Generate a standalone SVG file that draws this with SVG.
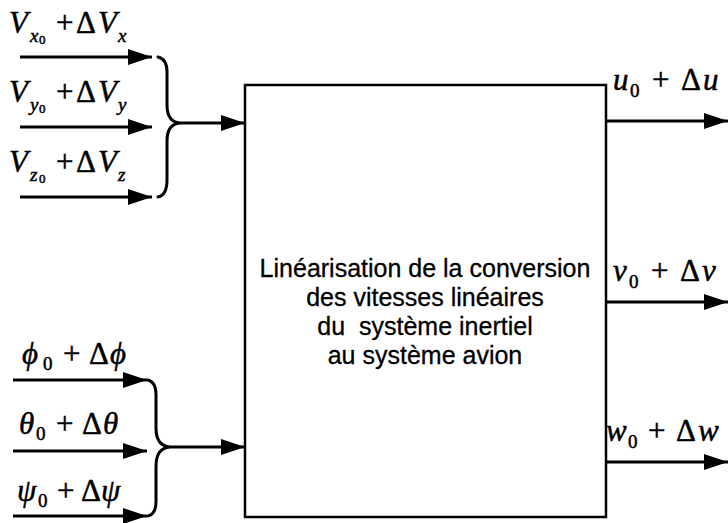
<svg xmlns="http://www.w3.org/2000/svg" width="728" height="523" viewBox="0 0 728 523">
  <defs>
    <marker id="arrow" markerWidth="24" markerHeight="16" refX="24" refY="8" orient="auto" markerUnits="userSpaceOnUse">
      <path d="M0,0 L24,8 L0,16 Z" fill="#000"/>
    </marker>
    <style>
      .wire { stroke: #000; stroke-width: 3; fill: none; }
      .brace { stroke: #000; stroke-width: 3; fill: none; stroke-linecap: round; }
      .box { stroke: #000; stroke-width: 2.5; fill: #fff; }
      .math { font-family: "Liberation Serif", "Times New Roman", serif; font-size: 31px; fill: #000; stroke: #000; stroke-width: 0.5; }
      .it { font-style: italic; }
      .sub { font-size: 19px; }
      .sub2 { font-size: 13px; }
      .body { font-family: "Liberation Sans", Arial, sans-serif; font-size: 25px; fill: #000; stroke: #000; stroke-width: 0.3; text-anchor: middle; }
    </style>
  </defs>

  <!-- central block -->
  <g id="block">
    <rect class="box" x="245" y="85" width="361" height="432"/>
    <text class="body" x="425" y="277">Linéarisation de la conversion</text>
    <text class="body" x="425" y="306">des vitesses linéaires</text>
    <text class="body" x="425" y="335" xml:space="preserve">du  système inertiel</text>
    <text class="body" x="425" y="364">au système avion</text>
  </g>

  <!-- input labels -->
  <g id="in-vx">
    <text class="math"><tspan class="it" x="9" y="33">V</tspan><tspan class="it sub" x="30" y="42">x</tspan><tspan class="sub2" x="39" y="44">0</tspan><tspan x="56" y="33">+</tspan><tspan x="76" y="33">Δ</tspan><tspan class="it" x="98" y="33">V</tspan><tspan class="it sub" x="118" y="42">x</tspan></text>
  </g>
  <g id="in-vy">
    <text class="math"><tspan class="it" x="9" y="102">V</tspan><tspan class="it sub" x="30" y="111">y</tspan><tspan class="sub2" x="39" y="113">0</tspan><tspan x="56" y="102">+</tspan><tspan x="76" y="102">Δ</tspan><tspan class="it" x="98" y="102">V</tspan><tspan class="it sub" x="118" y="111">y</tspan></text>
  </g>
  <g id="in-vz">
    <text class="math"><tspan class="it" x="9" y="172">V</tspan><tspan class="it sub" x="30" y="181">z</tspan><tspan class="sub2" x="39" y="183">0</tspan><tspan x="56" y="172">+</tspan><tspan x="76" y="172">Δ</tspan><tspan class="it" x="98" y="172">V</tspan><tspan class="it sub" x="118" y="181">z</tspan></text>
  </g>
  <g id="in-phi">
    <text class="math"><tspan class="it" x="22" y="364">ϕ</tspan><tspan class="sub" x="43" y="370">0</tspan><tspan x="63" y="364">+</tspan><tspan x="89" y="364">Δ</tspan><tspan class="it" x="110" y="364">ϕ</tspan></text>
  </g>
  <g id="in-theta">
    <text class="math"><tspan class="it" x="19" y="434">θ</tspan><tspan class="sub" x="36" y="440">0</tspan><tspan x="56" y="434">+</tspan><tspan x="82" y="434">Δ</tspan><tspan class="it" x="103" y="434">θ</tspan></text>
  </g>
  <g id="in-psi">
    <text class="math"><tspan class="it" x="17" y="501">ψ</tspan><tspan class="sub" x="38" y="507">0</tspan><tspan x="57" y="501">+</tspan><tspan x="81" y="501">Δ</tspan><tspan class="it" x="101" y="501">ψ</tspan></text>
  </g>

  <!-- output labels -->
  <g id="out-u">
    <text class="math"><tspan class="it" x="613" y="90">u</tspan><tspan class="sub" x="630" y="97">0</tspan><tspan x="652" y="90">+</tspan><tspan x="681" y="90">Δ</tspan><tspan class="it" x="703" y="90">u</tspan></text>
  </g>
  <g id="out-v">
    <text class="math"><tspan class="it" x="613" y="281">v</tspan><tspan class="sub" x="629" y="288">0</tspan><tspan x="651" y="281">+</tspan><tspan x="680" y="281">Δ</tspan><tspan class="it" x="702" y="281">v</tspan></text>
  </g>
  <g id="out-w">
    <text class="math"><tspan class="it" x="606" y="441">w</tspan><tspan class="sub" x="628" y="448">0</tspan><tspan x="648" y="441">+</tspan><tspan x="676" y="441">Δ</tspan><tspan class="it" x="698" y="441">w</tspan></text>
  </g>

  <!-- connectors -->
  <g id="connectors">
    <line class="wire" x1="20" y1="57" x2="152" y2="57" marker-end="url(#arrow)"/>
    <line class="wire" x1="20" y1="127" x2="152" y2="127" marker-end="url(#arrow)"/>
    <line class="wire" x1="20" y1="197" x2="152" y2="197" marker-end="url(#arrow)"/>
    <path class="brace" d="M158,57 Q167,59 167,72 L167,105 Q167,122 180,123 Q167,124 167,141 L167,180 Q167,195 158,197"/>
    <line class="wire" x1="180" y1="123" x2="245" y2="123" marker-end="url(#arrow)"/>

    <line class="wire" x1="13" y1="380" x2="147" y2="380" marker-end="url(#arrow)"/>
    <line class="wire" x1="13" y1="451" x2="147" y2="451" marker-end="url(#arrow)"/>
    <line class="wire" x1="13" y1="516" x2="147" y2="516" marker-end="url(#arrow)"/>
    <path class="brace" d="M148,380 Q156,382 156,395 L156,428 Q156,446 170,447 Q156,448 156,466 L156,502 Q156,514 148,516"/>
    <line class="wire" x1="170" y1="447" x2="245" y2="447" marker-end="url(#arrow)"/>

    <line class="wire" x1="606" y1="121" x2="728" y2="121" marker-end="url(#arrow)"/>
    <line class="wire" x1="606" y1="302" x2="728" y2="302" marker-end="url(#arrow)"/>
    <line class="wire" x1="606" y1="462" x2="728" y2="462" marker-end="url(#arrow)"/>
  </g>
</svg>
